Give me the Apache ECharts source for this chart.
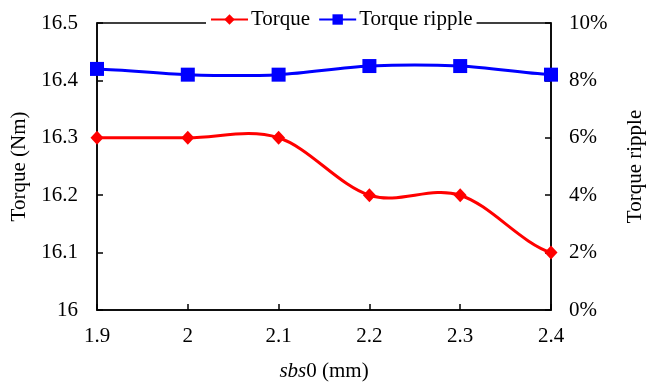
<!DOCTYPE html>
<html>
<head>
<meta charset="utf-8">
<script src="https://cdn.jsdelivr.net/npm/echarts@6/dist/echarts.min.js"></script>
<style>
  html, body { margin: 0; padding: 0; background: #fff; }
  #chart { width: 654px; height: 387px; }
</style>
</head>
<body>
<div id="chart"></div>
<script>
// sbs0 sweep values (mm)
const categories = ['1.9', '2', '2.1', '2.2', '2.3', '2.4'];
// Average torque (Nm)
const torque = [16.3, 16.3, 16.3, 16.2, 16.2, 16.1];
// Torque ripple (%)
const torqueRipple = [8.4, 8.2, 8.2, 8.5, 8.5, 8.2];

const FONT = '"Liberation Serif", "Times New Roman", serif';
const FS = 21;
const RED = '#ff0000';
const BLUE = '#0000ff';

// Catmull-Rom style smoothed segment between point i and i+1,
// positioned through the grid's own axes via api.coord.
function smoothSegment(values, color) {
  return function (params, api) {
    const i = params.dataIndex;
    const n = values.length;
    if (i >= n - 1) return null;
    const p = k => api.coord([k, values[Math.max(0, Math.min(n - 1, k))]]);
    const p0 = p(i - 1), p1 = p(i), p2 = p(i + 1), p3 = p(i + 2);
    return {
      type: 'bezierCurve',
      shape: {
        x1: p1[0], y1: p1[1],
        x2: p2[0], y2: p2[1],
        cpx1: p1[0] + (p2[0] - p0[0]) / 6,
        cpy1: p1[1] + (p2[1] - p0[1]) / 6,
        cpx2: p2[0] - (p3[0] - p1[0]) / 6,
        cpy2: p2[1] - (p3[1] - p1[1]) / 6
      },
      style: { stroke: color, lineWidth: 3, fill: null, lineCap: 'round' },
      silent: true
    };
  };
}

const chart = echarts.init(document.getElementById('chart'), null, { renderer: 'canvas' });

chart.setOption({
  animation: false,
  backgroundColor: '#fff',
  textStyle: { fontFamily: FONT, color: '#000' },
  grid: {
    left: 97, right: 76, top: 23, bottom: 68,
    show: true, borderColor: '#000', borderWidth: 1.5, backgroundColor: 'transparent'
  },
  legend: {
    left: 206, top: 8,
    padding: [1, 4, 1, 4],
    backgroundColor: '#fff',
    itemWidth: 37, itemHeight: 13, itemGap: 8,
    lineStyle: { opacity: 1 },
    textStyle: { fontFamily: FONT, fontSize: FS, color: '#000', padding: [0, 0, 0, -2] },
    data: ['Torque', 'Torque ripple']
  },
  xAxis: {
    type: 'category',
    data: categories,
    boundaryGap: false,
    name: '{i|sbs}0 (mm)',
    nameLocation: 'middle',
    nameGap: 51,
    nameTextStyle: {
      fontFamily: FONT, fontSize: FS, color: '#000',
      rich: { i: { fontFamily: FONT, fontSize: FS, fontStyle: 'italic', color: '#000' } }
    },
    axisLine: { lineStyle: { color: '#000', width: 1.5 } },
    axisTick: { inside: true, length: 6, alignWithLabel: true, lineStyle: { color: '#000', width: 1.5 } },
    axisLabel: { fontFamily: FONT, fontSize: FS, color: '#000', margin: 16 },
    splitLine: { show: false }
  },
  yAxis: [
    {
      type: 'value',
      min: 16, max: 16.5, interval: 0.1,
      name: 'Torque (Nm)',
      nameLocation: 'middle',
      nameGap: 61,
      nameTextStyle: { fontFamily: FONT, fontSize: FS, color: '#000' },
      axisLine: { show: true, lineStyle: { color: '#000', width: 1.5 } },
      axisTick: { show: true, inside: true, length: 6, lineStyle: { color: '#000', width: 1.5 } },
      axisLabel: {
        fontFamily: FONT, fontSize: FS, color: '#000', margin: 19,
        formatter: v => String(Math.round(v * 10) / 10)
      },
      splitLine: { show: false }
    },
    {
      type: 'value',
      min: 0, max: 10, interval: 2,
      name: 'Torque ripple',
      nameLocation: 'middle',
      nameRotate: 90,
      nameGap: 74,
      nameTextStyle: { fontFamily: FONT, fontSize: FS, color: '#000' },
      axisLine: { show: true, lineStyle: { color: '#000', width: 1.5 } },
      axisTick: { show: true, inside: true, length: 6, lineStyle: { color: '#000', width: 1.5 } },
      axisLabel: { fontFamily: FONT, fontSize: FS, color: '#000', margin: 18, formatter: '{value}%' },
      splitLine: { show: false }
    }
  ],
  series: [
    {
      name: 'Torque curve',
      type: 'custom',
      yAxisIndex: 0,
      data: torque.map((v, k) => [k, v]),
      encode: { x: 0, y: 1 },
      renderItem: smoothSegment(torque, RED),
      z: 2
    },
    {
      name: 'Torque ripple curve',
      type: 'custom',
      yAxisIndex: 1,
      data: torqueRipple.map((v, k) => [k, v]),
      encode: { x: 0, y: 1 },
      renderItem: smoothSegment(torqueRipple, BLUE),
      z: 2
    },
    {
      name: 'Torque',
      type: 'line',
      yAxisIndex: 0,
      data: torque,
      symbol: 'diamond',
      symbolSize: [13, 14],
      itemStyle: { color: RED },
      lineStyle: { color: RED, width: 3, opacity: 0 },
      z: 3
    },
    {
      name: 'Torque ripple',
      type: 'line',
      yAxisIndex: 1,
      data: torqueRipple,
      symbol: 'rect',
      symbolSize: 14,
      itemStyle: { color: BLUE },
      lineStyle: { color: BLUE, width: 3, opacity: 0 },
      z: 3
    }
  ]
});
</script>
</body>
</html>
